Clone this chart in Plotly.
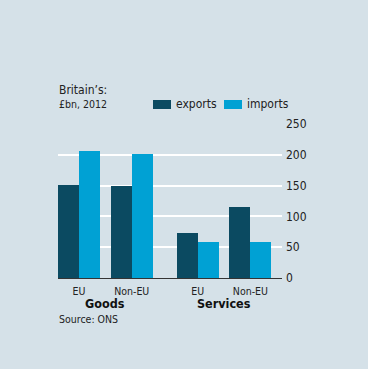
import plotly.graph_objects as go

categories = ["EU", "Non-EU", "EU", "Non-EU"]
sections = ["Goods", "Goods", "Services", "Services"]
exports = [151, 149, 72.5, 115]
imports = [206, 201, 59, 58.5]
yticks = [0, 50, 100, 150, 200, 250]

C_EXP = "#0b4a61"
C_IMP = "#00a1d4"
BG = "#d5e1e8"
FONT = "DejaVu Sans Condensed"

# layout geometry (x in plot units)
bar_w = 21
group_step = 52.7
section_gap = 13.3
centers = []
for i, s in enumerate(sections):
    extra = section_gap if s != sections[0] else 0
    centers.append(bar_w + group_step * i + extra)

fig = go.Figure()
fig.add_trace(go.Bar(x=[c - bar_w / 2 for c in centers], y=exports, width=bar_w,
                     marker=dict(color=C_EXP, line=dict(width=0)), name="exports", showlegend=False))
fig.add_trace(go.Bar(x=[c + bar_w / 2 for c in centers], y=imports, width=bar_w,
                     marker=dict(color=C_IMP, line=dict(width=0)), name="imports", showlegend=False))

fig.update_layout(
    width=368, height=369,
    margin=dict(l=58, r=86, t=124, b=91),
    paper_bgcolor=BG, plot_bgcolor=BG,
    font=dict(family=FONT, size=12, color="#222"),
    bargap=0,
    xaxis=dict(range=[0, 224], tickvals=centers, ticktext=categories, showgrid=False,
               zeroline=False, showline=False, ticks="", ticklabelstandoff=5,
               tickfont=dict(size=10.5, color="#222"), fixedrange=True),
    yaxis=dict(range=[0, 250], side="right", tickvals=yticks, showgrid=True, gridcolor="white",
               gridwidth=1.5, zeroline=True, zerolinecolor="#333", zerolinewidth=1,
               showline=False, ticks="", ticklabelstandoff=3,
               tickfont=dict(size=12, color="#222"), fixedrange=True),
)

def px_x(px):
    return (px - 58) / 224

def px_y(py):
    return (278 - py) / 154

# section labels
sec_names = []
for s in sections:
    if s not in sec_names:
        sec_names.append(s)
for s in sec_names:
    cs = [c for c, ss in zip(centers, sections) if ss == s]
    fig.add_annotation(x=sum(cs) / len(cs), y=px_y(303), xref="x", yref="paper",
                       text=s, showarrow=False,
                       font=dict(size=12.5, color="#111", family=FONT, weight=600),
                       xanchor="center", yanchor="middle")

fig.add_annotation(x=px_x(57), y=px_y(319), xref="paper", yref="paper", text="Source: ONS",
                   showarrow=False, font=dict(size=10.5, color="#222"), xanchor="left",
                   yanchor="middle")
fig.add_annotation(x=px_x(57), y=px_y(90), xref="paper", yref="paper", text="Britain\u2019s:",
                   showarrow=False, font=dict(size=12, color="#222"), xanchor="left", yanchor="middle")
fig.add_annotation(x=px_x(57), y=px_y(104), xref="paper", yref="paper", text="£bn, 2012",
                   showarrow=False, font=dict(size=10.5, color="#222"), xanchor="left", yanchor="middle")

for name, col, x0 in [("exports", C_EXP, 153), ("imports", C_IMP, 224)]:
    fig.add_shape(type="rect", xref="paper", yref="paper", x0=px_x(x0), x1=px_x(x0 + 18),
                  y0=px_y(109), y1=px_y(100), fillcolor=col, line=dict(width=0))
    fig.add_annotation(x=px_x(x0 + 21), y=px_y(104), xref="paper", yref="paper", text=name,
                       showarrow=False, font=dict(size=12, color="#222"), xanchor="left",
                       yanchor="middle")

fig.write_html("out.html", config={"displayModeBar": False},
               post_script="document.body.style.margin='0';")
